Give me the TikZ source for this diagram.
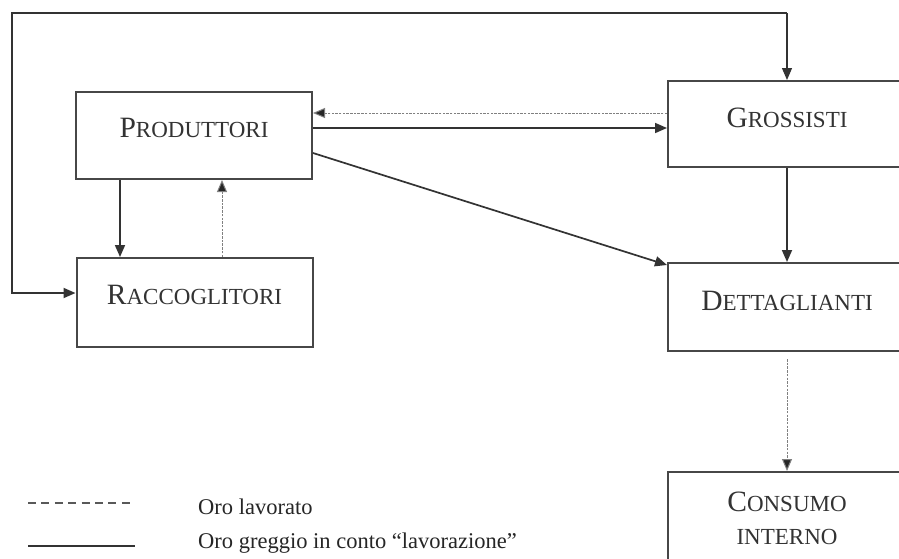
\documentclass[tikz,border=0pt]{standalone}
\usepackage{fontspec}
\setmainfont{Liberation Serif}
\usetikzlibrary{arrows.meta,calc}
\newcommand\fsc[2]{{\fontsize{29.5}{34}\selectfont #1}{\fontsize{23}{27}\selectfont #2}}
\tikzset{
  box/.style={draw=black!72, line width=2pt, minimum width=236pt, inner sep=0pt},
  lbl/.style={inner sep=0pt, text=black!80},
  solidarr/.style={draw=black!80, line width=1.7pt, -{Triangle[length=12pt,width=10pt]}},
  lavarr/.style={draw=black!50, line width=1pt, dash pattern=on 2.5pt off 1.2pt, -{Triangle[length=12pt,width=10pt,fill=black!85]}},
  legtxt/.style={anchor=west, inner sep=0pt, font=\fontsize{22.5}{26}\selectfont, text=black!85},
}
\begin{document}
\begin{tikzpicture}[x=1pt,y=-1pt]
\useasboundingbox (0,0) rectangle (899,558);
\fill[white] (0,0) rectangle (899,558);
% boxes
\node[box, minimum height=87pt] (prod) at (194,135.5) {};
\node[box, minimum height=89pt] (racc) at (194.5,302.5) {};
\node[box, minimum width=238pt, minimum height=86pt] (gros) at (787,124) {};
\node[box, minimum width=238pt, minimum height=88pt] (dett) at (787,307) {};
\node[box, minimum width=238pt, minimum height=92pt] (cons) at (787,518) {};
% labels
\node[lbl] (tprod) at ([yshift=7.5pt]prod.center) {\fsc{P}{RODUTTORI}};
\node[lbl] (tracc) at ([yshift=7.5pt]racc.center) {\fsc{R}{ACCOGLITORI}};
\node[lbl] (tgros) at ([yshift=6pt]gros.center) {\fsc{G}{ROSSISTI}};
\node[lbl] (tdett) at ([yshift=6pt]dett.center) {\fsc{D}{ETTAGLIANTI}};
\node[lbl] (tcons1) at (787,502) {\fsc{C}{ONSUMO}};
\node[lbl] (tcons2) at (787,537) {\fsc{}{INTERNO}};
% helper coordinates
\coordinate (hA) at (0,113);
\coordinate (hB) at (0,128);
\coordinate (cl) at (12,293);
\coordinate (ctl) at (12,13);
\coordinate (ctr) at (787,13);
\coordinate (vA) at (120,0);
\coordinate (vB) at (222,0);
% top loop
\draw[draw=black!80, line width=1.8pt, {Triangle[length=12pt,width=10pt]}-] (racc.west |- cl) -- (cl) -- (ctl) -- (ctr);
\draw[solidarr, line width=1.2pt] (ctr) -- (gros.north);
% produttori <-> grossisti
\draw[lavarr] (gros.west |- hA) -- (prod.east |- hA);
\draw[solidarr] (prod.east |- hB) -- (gros.west |- hB);
% produttori -> dettaglianti
\draw[solidarr] ([yshift=-17.5pt]prod.east) -- ([yshift=-3pt]dett.north west);
% produttori <-> raccoglitori
\draw[solidarr] (prod.south -| vA) -- (racc.north -| vA);
\draw[lavarr] (racc.north -| vB) -- (prod.south -| vB);
% grossisti -> dettaglianti
\draw[solidarr] (gros.south) -- (dett.north);
% dettaglianti -> consumo
\draw[lavarr] ([yshift=-7pt]dett.south) -- (cons.north);
% legend
\coordinate (l1a) at (28,503);
\coordinate (l1b) at (135,503);
\coordinate (l2a) at (28,546);
\coordinate (l2b) at (135,546);
\draw[draw=black!65, line width=2.2pt, dash pattern=on 8pt off 5.4pt] (l1a) -- (l1b);
\draw[draw=black!80, line width=2.2pt] (l2a) -- (l2b);
\node[legtxt] (leg1) at (198,507) {Oro lavorato};
\node[legtxt] (leg2) at (198,543) {Oro greggio in conto “lavorazione”};
\end{tikzpicture}
\end{document}
